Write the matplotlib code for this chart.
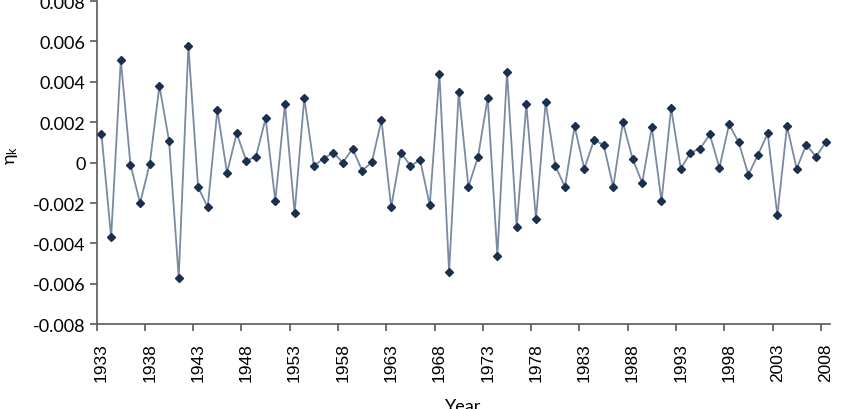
import matplotlib.pyplot as plt
import numpy as np
from matplotlib.ticker import FixedLocator

# Data
years = np.arange(1933, 2009)
eta = [
    0.0014, -0.0037, 0.0051, -0.0001, -0.0020, -0.00005, 0.0038, 0.00107,
    -0.0057, 0.0058, -0.0012, -0.0022, 0.0026, -0.0005, 0.00145, 0.0001,
    0.0003, 0.0022, -0.0019, 0.0029, -0.0025, 0.0032, -0.00015, 0.0002,
    0.0005, 0.0, 0.0007, -0.0004, 0.00003, 0.0021, -0.0022, 0.0005,
    -0.00015, 0.00013, -0.0021, 0.0044, -0.0054, 0.0035, -0.0012, 0.0003,
    0.0032, -0.0046, 0.0045, -0.0032, 0.0029, -0.0028, 0.0030, -0.00015,
    -0.0012, 0.0018, -0.0003, 0.0011, 0.0009, -0.0012, 0.0020, 0.0002,
    -0.0010, 0.00175, -0.0019, 0.0027, -0.0003, 0.0005, 0.0007, 0.0014,
    -0.00025, 0.0019, 0.0010, -0.0006, 0.0004, 0.00145, -0.0026, 0.0018,
    -0.0003, 0.0009, 0.0003, 0.0010,
]
year_labels = [str(y) for y in range(1933, 2009, 5)]
y_ticks = [-0.008, -0.006, -0.004, -0.002, 0, 0.002, 0.004, 0.006, 0.008]
y_tick_labels = ['-0.008', '-0.006', '-0.004', '-0.002', '0',
                 '0.002', '0.004', '0.006', '0.008']

fig = plt.figure(figsize=(8.42, 4.10), dpi=100)
ax = fig.add_axes([0.1148, 0.2066, 0.8715, 0.7883])

ax.plot(years, eta, color='#7a8aa0', linewidth=1.3, zorder=2)
ax.plot(years, eta, linestyle='none', marker='D', markersize=4,
        color='#1b2f4e', zorder=3)

ax.set_xlim(1932.5, 2008.5)
ax.set_ylim(-0.008, 0.008)

# category style axis: ticks at boundaries, labels on categories
ax.xaxis.set_major_locator(FixedLocator(range(1933, 2009, 5)))
ax.set_xticklabels(year_labels, rotation=90, fontsize=12.5,
                   family='Liberation Sans')
ax.xaxis.set_minor_locator(FixedLocator(np.arange(1932.5, 2009, 5)))
ax.tick_params(axis='x', which='major', length=0, pad=13)
ax.tick_params(axis='x', which='minor', length=5, direction='out',
               color='#595959', width=1.2)

ax.set_yticks(y_ticks)
ax.set_yticklabels(y_tick_labels, fontsize=13, family='Lato')
ax.tick_params(axis='y', length=5, direction='out', color='#595959',
               width=1.2, pad=3)

for side in ['top', 'right']:
    ax.spines[side].set_visible(False)
for side in ['left', 'bottom']:
    ax.spines[side].set_color('#595959')
    ax.spines[side].set_linewidth(1.2)

fig.text(0.014, 0.62, r'$\mathregular{\eta_k}$', rotation=90, fontsize=13,
         family='Lato', ha='center', va='center')
fig.text(0.55, 0.027, 'Year', fontsize=13, family='Lato',
         ha='center', va='top')

plt.savefig('out.png', dpi=100)
